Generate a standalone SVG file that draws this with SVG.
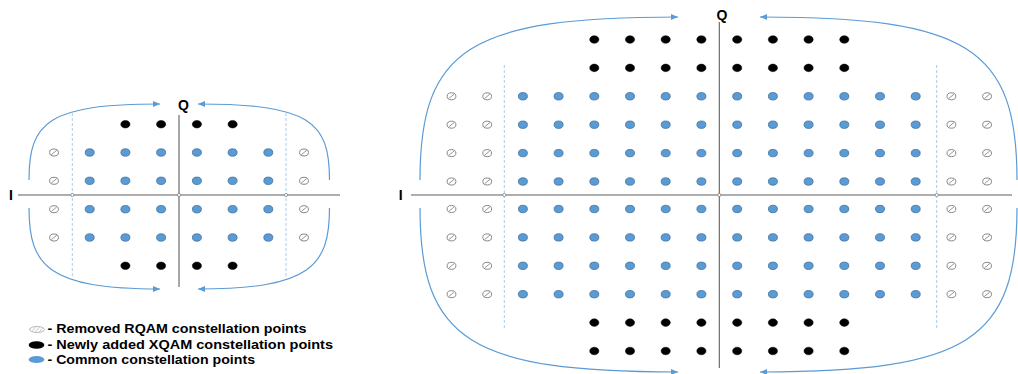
<svg xmlns="http://www.w3.org/2000/svg" xmlns:xlink="http://www.w3.org/1999/xlink" width="1018" height="374" viewBox="0 0 1018 374">
<style>
.axis{stroke:#5f5f5f;stroke-width:1.1;fill:none}
.dash{stroke:#a9cbec;stroke-width:1;stroke-dasharray:3 2;fill:none}
.conn{stroke:#5b9bd5;stroke-width:1.2;fill:none;marker-end:url(#arr)}
.blue{fill:#5b9bd5;stroke:#41719c;stroke-width:0.8}
.black{fill:#000;stroke:#000;stroke-width:0.5}
.rm{fill:#fff;stroke:#7a7a7a;stroke-width:0.9}
.hatch{stroke:#8a8a8a;stroke-width:0.9}
.tick{fill:#fff;stroke:#777;stroke-width:0.7}
.lbl{font-family:"Liberation Sans",Arial,sans-serif;font-weight:bold;fill:#000}
.ax{font-size:14px;text-anchor:middle}
.leg{font-size:12px}
</style>
<defs>
<marker id="arr" markerUnits="userSpaceOnUse" markerWidth="8" markerHeight="6" refX="7" refY="3" orient="auto">
<path d="M0,0 L7,3 L0,6 z" fill="#5b9bd5"/>
</marker>
<pattern id="hp" patternUnits="userSpaceOnUse" width="3" height="3" patternTransform="rotate(40)">
<line x1="0" y1="0" x2="0" y2="3" stroke="#a0a0a0" stroke-width="0.9"/>
</pattern>
<ellipse id="pb" rx="4.5" ry="3.7" class="blue"/>
<ellipse id="pk" rx="4.6" ry="3.8" class="black"/>
<g id="pr"><ellipse rx="4.4" ry="3.5" class="rm"/><line x1="-2.7" y1="2.2" x2="2.7" y2="-2.2" class="hatch"/></g>
<g id="sBlk"><use href="#pk" x="125.4"/><use href="#pk" x="161.1"/><use href="#pk" x="196.9"/><use href="#pk" x="232.6"/></g>
<g id="sRow"><use href="#pr" x="54"/><use href="#pb" x="89.7"/><use href="#pb" x="125.4"/><use href="#pb" x="161.1"/><use href="#pb" x="196.9"/><use href="#pb" x="232.6"/><use href="#pb" x="268.3"/><use href="#pr" x="304"/></g>
<g id="bBlk"><use href="#pk" x="594.3"/><use href="#pk" x="630"/><use href="#pk" x="665.7"/><use href="#pk" x="701.4"/><use href="#pk" x="737.2"/><use href="#pk" x="772.9"/><use href="#pk" x="808.6"/><use href="#pk" x="844.3"/></g>
<g id="bRow"><use href="#pr" x="451.5"/><use href="#pr" x="487.2"/><use href="#pb" x="522.9"/><use href="#pb" x="558.6"/><use href="#pb" x="594.3"/><use href="#pb" x="630"/><use href="#pb" x="665.7"/><use href="#pb" x="701.4"/><use href="#pb" x="737.2"/><use href="#pb" x="772.9"/><use href="#pb" x="808.6"/><use href="#pb" x="844.3"/><use href="#pb" x="880"/><use href="#pb" x="915.7"/><use href="#pr" x="951.4"/><use href="#pr" x="987.1"/></g>
</defs>
<rect width="1018" height="374" fill="#fff"/>

<g id="small-diagram">
<g id="small-axes">
<line class="dash" x1="72.3" y1="113" x2="72.3" y2="278"/>
<line class="dash" x1="286" y1="113" x2="286" y2="278"/>
<line class="axis" x1="18" y1="195" x2="340" y2="195"/>
<line class="axis" x1="179" y1="115" x2="179" y2="287"/>
<circle class="tick" cx="72.3" cy="195" r="1.6"/>
<circle class="tick" cx="179" cy="195" r="1.6"/>
<circle class="tick" cx="286" cy="195" r="1.6"/>
<text class="lbl ax" x="11" y="200">I</text>
<text class="lbl ax" x="183.5" y="110">Q</text>
</g>
<g id="small-points">
<use href="#sBlk" y="124.2"/>
<use href="#sRow" y="152.5"/>
<use href="#sRow" y="180.8"/>
<use href="#sRow" y="209.2"/>
<use href="#sRow" y="237.5"/>
<use href="#sBlk" y="265.8"/>
</g>
</g>

<g id="big-diagram">
<g id="big-axes">
<line class="dash" x1="504.3" y1="65" x2="504.3" y2="328"/>
<line class="dash" x1="936.7" y1="65" x2="936.7" y2="328"/>
<line class="axis" x1="411" y1="195" x2="1012" y2="195"/>
<line class="axis" x1="719.3" y1="22" x2="719.3" y2="368"/>
<circle class="tick" cx="504.3" cy="195" r="1.6"/>
<circle class="tick" cx="719.3" cy="195" r="1.6"/>
<circle class="tick" cx="936.7" cy="195" r="1.6"/>
<text class="lbl ax" x="400.7" y="200">I</text>
<text class="lbl ax" x="722" y="20">Q</text>
</g>
<g id="big-points">
<use href="#bBlk" y="39.5"/>
<use href="#bBlk" y="67.9"/>
<use href="#bRow" y="96.3"/>
<use href="#bRow" y="124.7"/>
<use href="#bRow" y="153.1"/>
<use href="#bRow" y="181.5"/>
<use href="#bRow" y="209"/>
<use href="#bRow" y="237.4"/>
<use href="#bRow" y="265.8"/>
<use href="#bRow" y="294.2"/>
<use href="#bBlk" y="322.6"/>
<use href="#bBlk" y="351"/>
</g>
</g>

<g id="connectors">
<path class="conn" d="M29,180 C29,122 48,104 160,104"/>
<path class="conn" d="M329.5,180 C329.5,122 310.5,104 198,104"/>
<path class="conn" d="M29,208 C29,266 48,289 160,289"/>
<path class="conn" d="M329.5,208 C329.5,266 310.5,289 198,289"/>
<path class="conn" d="M420,180 C420,48 470,17 678,17"/>
<path class="conn" d="M1017,180 C1017,48 968,17 760,17"/>
<path class="conn" d="M420,208 C420,340 470,372 678,372"/>
<path class="conn" d="M1017,208 C1017,340 968,372 760,372"/>
</g>

<g id="legend">
<g id="legend-removed">
<ellipse cx="37" cy="329.5" rx="7.5" ry="3" fill="url(#hp)" stroke="#a8a8a8" stroke-width="0.8"/>
<text class="lbl leg" x="47.5" y="333.3" textLength="259" lengthAdjust="spacingAndGlyphs">- Removed RQAM constellation points</text>
</g>
<g id="legend-added">
<ellipse cx="36.5" cy="345" rx="7.8" ry="3.8" fill="#000"/>
<text class="lbl leg" x="47.5" y="348.8" textLength="285.5" lengthAdjust="spacingAndGlyphs">- Newly added XQAM constellation points</text>
</g>
<g id="legend-common">
<ellipse cx="36.5" cy="359.5" rx="7.8" ry="3.6" fill="#5b9bd5"/>
<text class="lbl leg" x="47.5" y="363.5" textLength="207.5" lengthAdjust="spacingAndGlyphs">- Common constellation points</text>
</g>
</g>
</svg>
